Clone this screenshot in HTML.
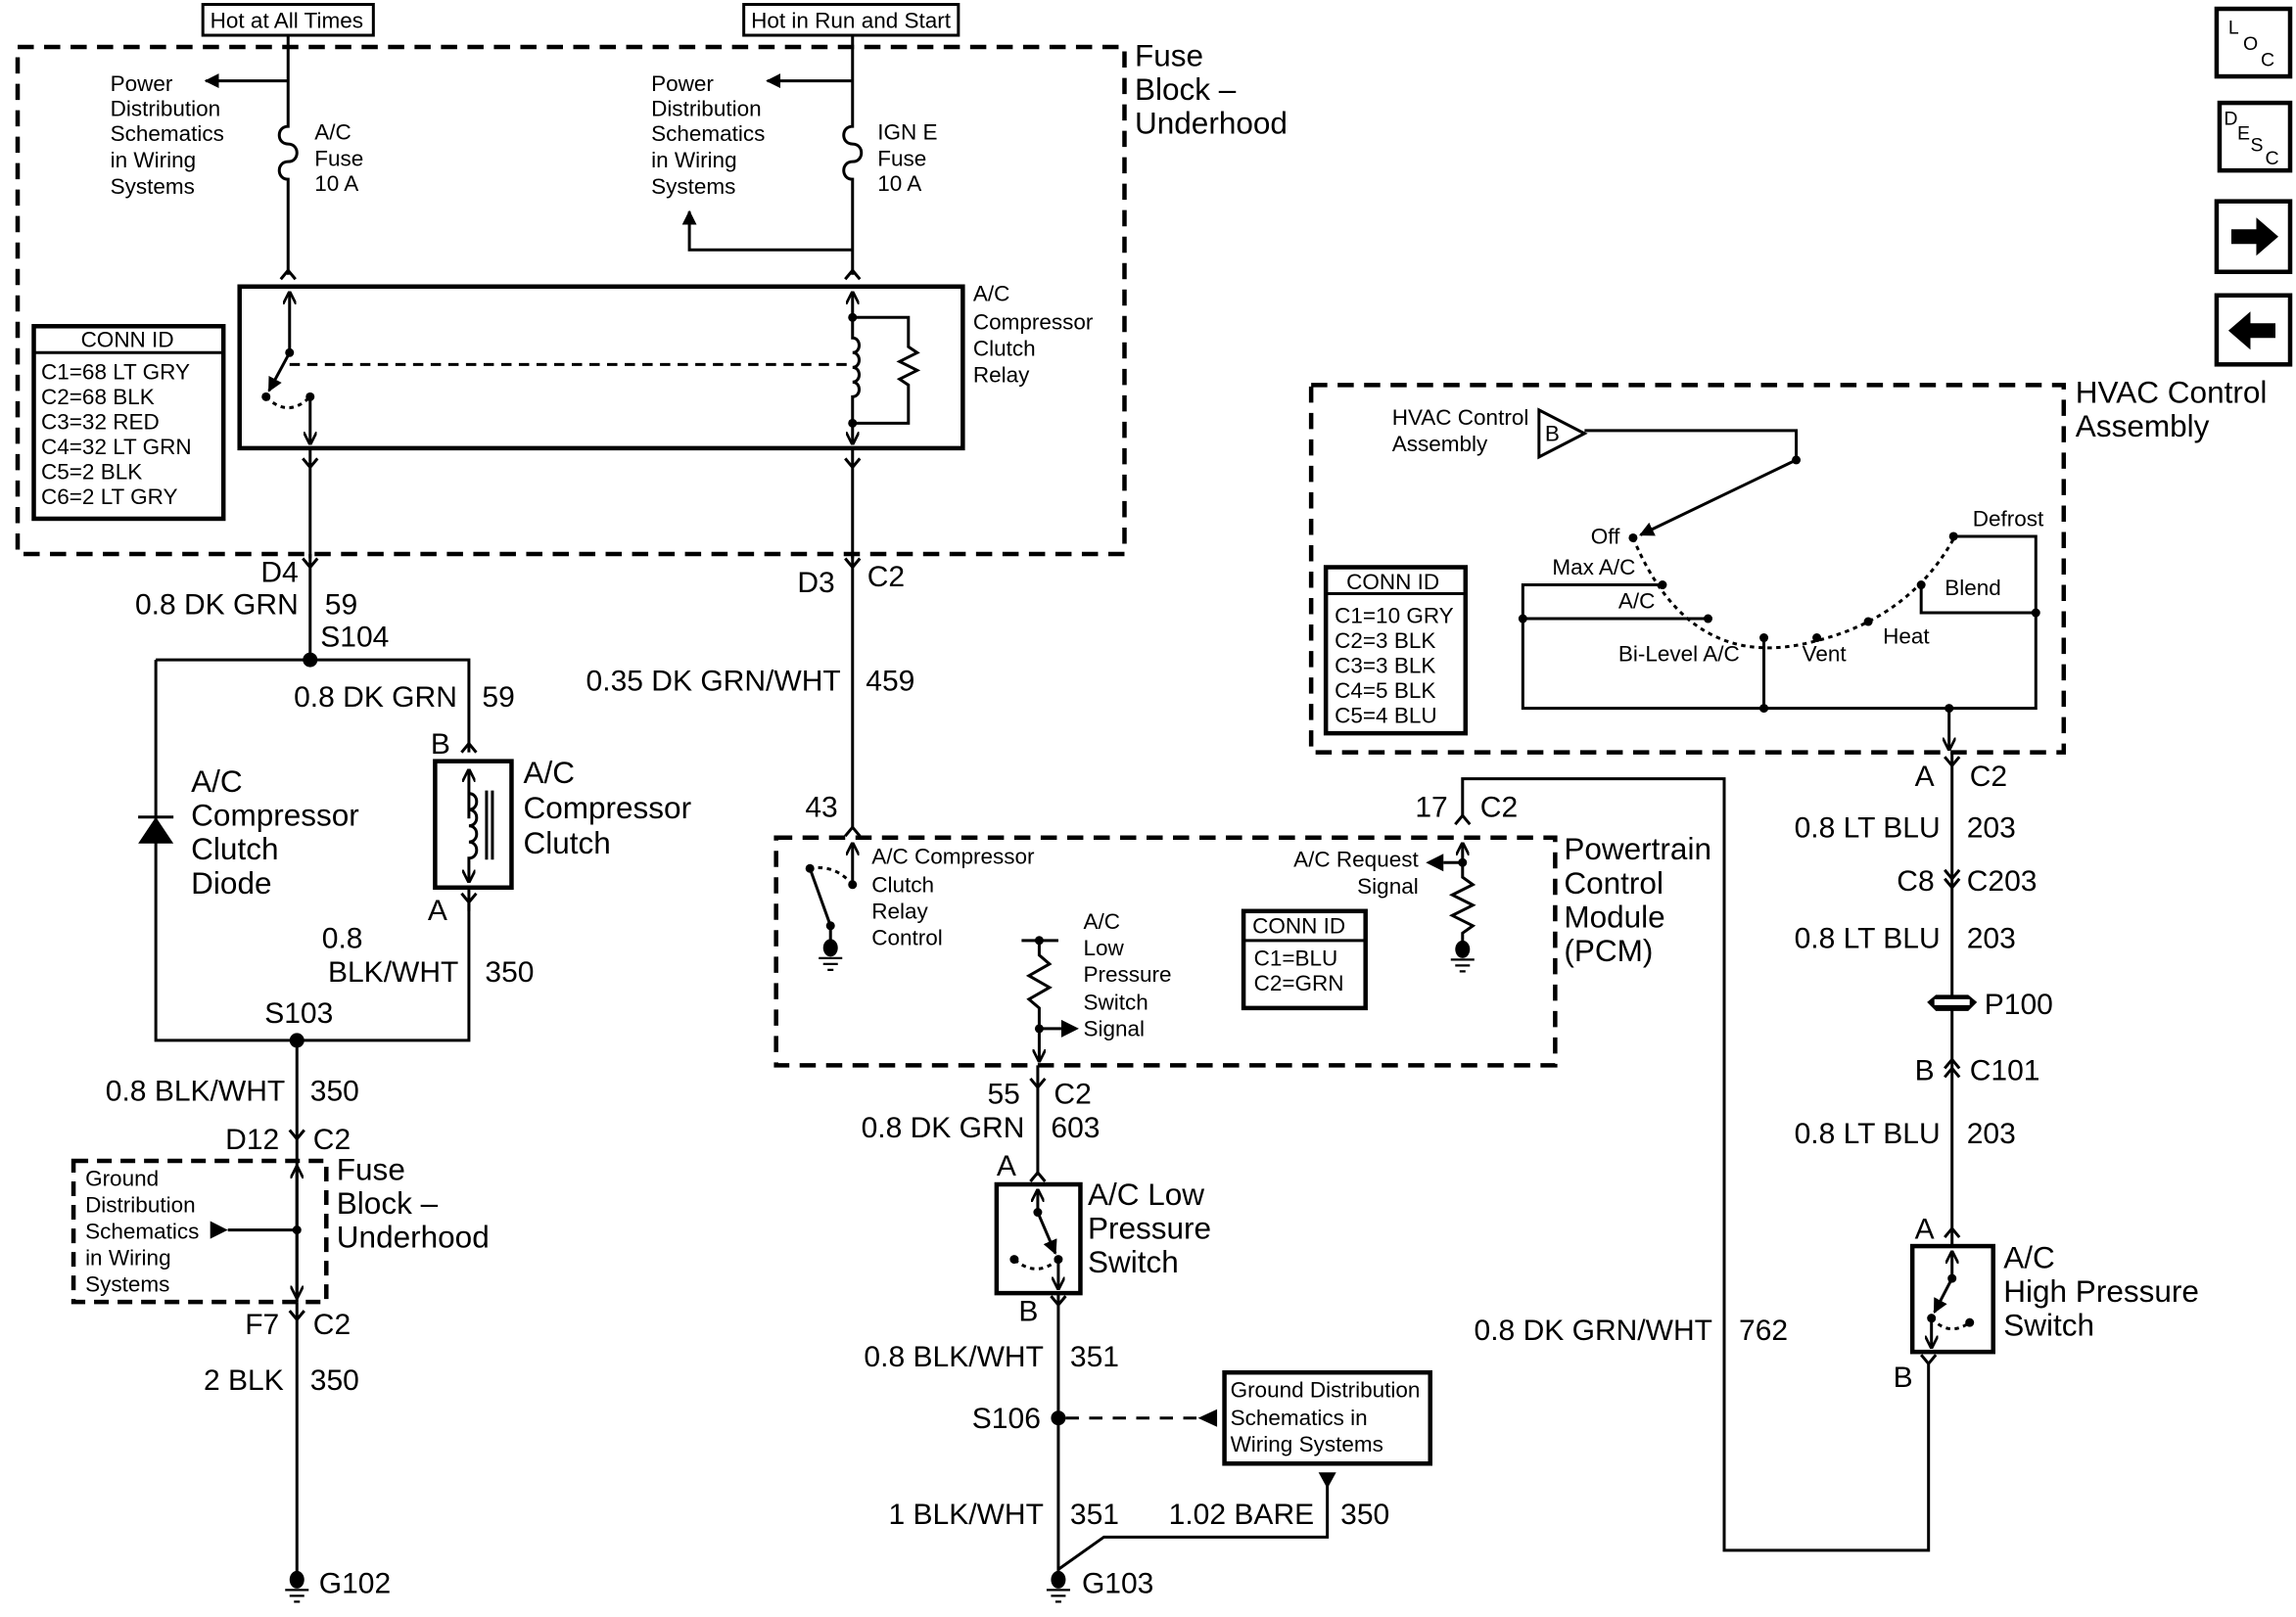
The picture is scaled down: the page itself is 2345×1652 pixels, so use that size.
<!DOCTYPE html>
<html><head><meta charset="utf-8"><style>
html,body{margin:0;padding:0;background:#fff;}
svg{display:block;}
text{font-family:"Liberation Sans",sans-serif;fill:#000;}
.s{font-size:15px;}
.l{font-size:21px;}
.w{font-size:20px;}
</style></head><body>
<svg width="2345" height="1652" viewBox="0 0 1562 1100.4" preserveAspectRatio="none" xmlns="http://www.w3.org/2000/svg">
<defs>
<marker id="ah" viewBox="0 0 10 10" refX="9" refY="5" markerWidth="10" markerHeight="10" markerUnits="userSpaceOnUse" orient="auto"><path d="M0 0L10 5L0 10z" fill="#000"/></marker>
<marker id="oa" viewBox="0 0 10 10" refX="9" refY="5" markerWidth="9" markerHeight="9" markerUnits="userSpaceOnUse" orient="auto"><path d="M0 0L10 5L0 10" fill="none" stroke="#000" stroke-width="2"/></marker>
</defs>
<g fill="none" stroke="#000" stroke-width="2">
<rect x="138" y="3" width="116" height="21"/>
<rect x="506" y="3" width="146" height="21"/>
<rect x="12" y="32" width="753" height="345" stroke-width="3" stroke-dasharray="11,7"/>
<path d="M196 24V86c-8 0-8 12 0 12c8 0 8 12 0 12c-8 0-8 12 0 12V187"/>
<path d="M196 55H140" marker-end="url(#ah)"/>
<path d="M191 190L196 184L201 190"/>
<path d="M580 24V86c-8 0-8 12 0 12c8 0 8 12 0 12c-8 0-8 12 0 12V187"/>
<path d="M580 55H522" marker-end="url(#ah)"/>
<path d="M580 170H469V144" marker-end="url(#ah)"/>
<path d="M575 190L580 184L585 190"/>
<rect x="163" y="195" width="492" height="110" stroke-width="3"/>
<path d="M197 240V199" marker-end="url(#oa)"/>
<path d="M197 240L183 266" marker-end="url(#ah)"/>
<path d="M181 270Q196 285 211 270" stroke-dasharray="3,3"/>
<path d="M211 268V302" marker-end="url(#oa)"/>
<path d="M197 248H580" stroke-dasharray="7,5"/>
<path d="M580 216V199" marker-end="url(#oa)"/>
<path d="M580 216V230c6 0 6 10 0 10c6 0 6 10 0 10c6 0 6 10 0 10c6 0 6 10 0 10V302" marker-end="url(#oa)"/>
<path d="M580 216H618V236l6 4l-12 6l12 6l-12 6l6 4V288H580"/>
<path d="M206 312L211 318L216 312M211 305V380"/>
<path d="M575 312L580 318L585 312M580 305V380"/>
<rect x="23" y="222" width="129" height="131" stroke-width="3"/>
<path d="M23 240H152"/>
<path d="M211 377V449"/>
<path d="M206 380L211 386L216 380"/>
<path d="M106 449H319V512M106 449V708H319V614"/>
<path d="M314 512L319 506L324 512"/>
<rect x="296" y="518" width="52" height="86" stroke-width="3"/>
<path d="M319 557V524" marker-end="url(#oa)"/>
<path d="M319 540c7 0 7 11 0 11c7 0 7 11 0 11c7 0 7 11 0 11c7 0 7 11 0 11V600" marker-end="url(#oa)"/>
<path d="M331 538V585M335 538V585"/>
<path d="M314 608L319 614L324 608M319 604V620"/>
<path d="M94 556H118"/>
<path d="M202 708V886"/>
<path d="M197 769L202 775L207 769"/>
<rect x="50" y="790" width="172" height="96" stroke-width="3" stroke-dasharray="10,6"/>
<path d="M202 837V794" marker-end="url(#oa)"/>
<path d="M202 837V883" marker-end="url(#oa)"/>
<path d="M202 837H155"/>
<path d="M197 892L202 898L207 892M202 886V1070"/>
<path d="M580 377V563"/>
<path d="M575 380L580 386L585 380"/>
<path d="M575 569L580 563L585 569"/>
<rect x="528" y="570" width="530" height="155" stroke-width="3" stroke-dasharray="11,7"/>
<path d="M580 602V574" marker-end="url(#oa)"/>
<path d="M580 602Q568 588 551 591" stroke-dasharray="3,3"/>
<path d="M551 591L565 630V643"/>
<path d="M695 640H720M707 640V650l7 6l-14 8l14 8l-14 8l7 6V700"/>
<path d="M707 700H722" />
<path d="M707 700V722" marker-end="url(#oa)"/>
<rect x="846" y="620" width="83" height="66" stroke-width="3"/>
<path d="M846 640H929"/>
<path d="M995 587V574" marker-end="url(#oa)"/>
<path d="M995 587H982"/>
<path d="M995 587V597l7 5l-14 7l14 7l-14 7l14 7l-7 5V645"/>
<path d="M995 555V530H1173V1055H1312V928"/>
<path d="M990 561L995 555L1000 561"/>
<path d="M706 725V800"/>
<path d="M701 734L706 740L711 734"/>
<path d="M701 804L706 798L711 804"/>
<rect x="678" y="806" width="57" height="74" stroke-width="3"/>
<path d="M706 825V810" marker-end="url(#oa)"/>
<path d="M706 825L718 853" marker-end="url(#ah)"/>
<path d="M720 857Q705 870 690 857" stroke-dasharray="3,3"/>
<path d="M720 857V877" marker-end="url(#oa)"/>
<path d="M715 882L720 888L725 882M720 880V1072"/>
<path d="M725 965H815" stroke-dasharray="9,7"/>
<rect x="833" y="934" width="140" height="62" stroke-width="3"/>
<path d="M903 1010V1046H751L720 1068"/>
<rect x="892" y="262" width="512" height="250" stroke-width="3" stroke-dasharray="11,7"/>
<polygon points="1047,279 1047,311 1078,295"/>
<path d="M1078 293H1222V313"/>
<path d="M1222 313L1116 364" marker-end="url(#ah)"/>
<path d="M1111 366Q1150 460 1236 436Q1300 420 1330 365" stroke-dasharray="3,3"/>
<path d="M1131 398H1036V482H1385V417H1307V398M1036 421H1162M1329 365H1385V417M1200 434V482"/>
<path d="M1326 482V510" marker-end="url(#oa)"/>
<rect x="902" y="386" width="95" height="113" stroke-width="3"/>
<path d="M902 404H997"/>
<path d="M1328 512V848"/>
<path d="M1323 515L1328 521L1333 515"/>
<path d="M1323 592L1328 598L1333 592M1323 598L1328 604L1333 598"/>
<path d="M1323 727L1328 721L1333 727M1323 733L1328 727L1333 733"/>
<path d="M1323 842L1328 836L1333 842"/>
<rect x="1301" y="848" width="55" height="72" stroke-width="3"/>
<path d="M1328 870V852" marker-end="url(#oa)"/>
<path d="M1328 870L1316 893" marker-end="url(#ah)"/>
<path d="M1314 897Q1326 910 1340 900" stroke-dasharray="3,3"/>
<path d="M1314 897V917" marker-end="url(#oa)"/>
<path d="M1307 922L1312 928L1317 922"/>
<rect x="1508" y="6" width="50" height="46" stroke-width="3"/>
<rect x="1510" y="70" width="48" height="46" stroke-width="3"/>
<rect x="1508" y="137" width="50" height="48" stroke-width="3"/>
<rect x="1508" y="201" width="50" height="47" stroke-width="3"/>
</g>
<g fill="#000" stroke="none">
<circle cx="197" cy="240" r="3"/><circle cx="181" cy="270" r="3"/><circle cx="211" cy="270" r="3"/>
<circle cx="580" cy="216" r="3"/><circle cx="580" cy="288" r="3"/>
<circle cx="211" cy="449" r="5"/><circle cx="202" cy="708" r="5"/><circle cx="202" cy="837" r="3"/>
<circle cx="580" cy="602" r="3"/><circle cx="551" cy="591" r="3"/><circle cx="565" cy="630" r="3"/>
<circle cx="707" cy="640" r="3"/><circle cx="707" cy="700" r="3"/><circle cx="995" cy="587" r="3"/>
<circle cx="706" cy="825" r="3"/><circle cx="720" cy="857" r="3"/><circle cx="690" cy="857" r="3"/>
<circle cx="720" cy="965" r="5"/>
<circle cx="1222" cy="313" r="3"/><circle cx="1111" cy="366" r="3"/><circle cx="1131" cy="398" r="3"/><circle cx="1162" cy="421" r="3"/><circle cx="1036" cy="421" r="3"/><circle cx="1200" cy="434" r="3"/><circle cx="1236" cy="434" r="3"/><circle cx="1271" cy="423" r="3"/><circle cx="1307" cy="398" r="3"/><circle cx="1329" cy="365" r="3"/><circle cx="1385" cy="417" r="3"/><circle cx="1200" cy="482" r="3"/><circle cx="1326" cy="482" r="3"/>
<circle cx="1328" cy="870" r="3"/><circle cx="1314" cy="897" r="3"/><circle cx="1340" cy="900" r="3"/>
<polygon points="106,556 94,574 118,574"/>
<polygon points="143,831 155,837 143,843"/>
<polygon points="722,694 734,700 722,706"/>
<polygon points="982,581 970,587 982,593"/>
<polygon points="828,959 815,965 828,971"/>
<polygon points="897,1002 909,1002 903,1013"/>
<ellipse cx="565" cy="645" rx="5" ry="6"/><ellipse cx="995" cy="646" rx="5" ry="6"/>
<ellipse cx="202" cy="1075" rx="5" ry="6"/><ellipse cx="720" cy="1075" rx="5" ry="6"/>
<polygon points="1311,682 1317,677 1339,677 1345,682 1339,688 1317,688"/>
<rect x="1316" y="680" width="24" height="4" fill="#fff"/>
<polygon points="1518,156 1535,156 1535,148 1550,161 1535,174 1535,166 1518,166"/>
<polygon points="1548,220 1531,220 1531,212 1516,225 1531,238 1531,230 1548,230"/>
</g>
<g fill="none" stroke="#000" stroke-width="1.5">
<path d="M557 652H573M560 656H570M563 660H567"/>
<path d="M987 653H1003M990 657H1000M993 661H997"/>
<path d="M194 1082H210M197 1086H207M200 1090H204"/>
<path d="M712 1082H728M715 1086H725M718 1090H722"/>
</g>
<text class="s" x="143" y="19">Hot at All Times</text>
<text class="s" x="511" y="19">Hot in Run and Start</text>
<text class="l" x="772" y="45">Fuse</text><text class="l" x="772" y="68">Block –</text><text class="l" x="772" y="91">Underhood</text>
<g class="s">
<text x="75" y="62">Power</text><text x="75" y="79">Distribution</text><text x="75" y="96">Schematics</text><text x="75" y="114">in Wiring</text><text x="75" y="132">Systems</text>
<text x="214" y="95">A/C</text><text x="214" y="113">Fuse</text><text x="214" y="130">10 A</text>
<text x="443" y="62">Power</text><text x="443" y="79">Distribution</text><text x="443" y="96">Schematics</text><text x="443" y="114">in Wiring</text><text x="443" y="132">Systems</text>
<text x="597" y="95">IGN E</text><text x="597" y="113">Fuse</text><text x="597" y="130">10 A</text>
<text x="662" y="205">A/C</text><text x="662" y="224">Compressor</text><text x="662" y="242">Clutch</text><text x="662" y="260">Relay</text>
<text x="55" y="236">CONN ID</text>
<text x="28" y="258">C1=68 LT GRY</text><text x="28" y="275">C2=68 BLK</text><text x="28" y="292">C3=32 RED</text><text x="28" y="309">C4=32 LT GRN</text><text x="28" y="326">C5=2 BLK</text><text x="28" y="343">C6=2 LT GRY</text>
<text x="58" y="807">Ground</text><text x="58" y="825">Distribution</text><text x="58" y="843">Schematics</text><text x="58" y="861">in Wiring</text><text x="58" y="879">Systems</text>
<text x="593" y="588">A/C Compressor</text><text x="593" y="607">Clutch</text><text x="593" y="625">Relay</text><text x="593" y="643">Control</text>
<text x="737" y="632">A/C</text><text x="737" y="650">Low</text><text x="737" y="668">Pressure</text><text x="737" y="687">Switch</text><text x="737" y="705">Signal</text>
<text x="852" y="635">CONN ID</text><text x="853" y="657">C1=BLU</text><text x="853" y="674">C2=GRN</text>
<text x="965" y="590" text-anchor="end">A/C Request</text><text x="965" y="608" text-anchor="end">Signal</text>
<text x="837" y="951">Ground Distribution</text><text x="837" y="970">Schematics in</text><text x="837" y="988">Wiring Systems</text>
<text x="947" y="289">HVAC Control</text><text x="947" y="307">Assembly</text>
<text x="1051" y="300">B</text>
<text x="1102" y="370" text-anchor="end">Off</text>
<text x="1056" y="391">Max A/C</text><text x="1101" y="414">A/C</text><text x="1101" y="450">Bi-Level A/C</text>
<text x="1226" y="450">Vent</text><text x="1281" y="438">Heat</text><text x="1323" y="405">Blend</text><text x="1342" y="358">Defrost</text>
<text x="916" y="401">CONN ID</text>
<text x="908" y="424">C1=10 GRY</text><text x="908" y="441">C2=3 BLK</text><text x="908" y="458">C3=3 BLK</text><text x="908" y="475">C4=5 BLK</text><text x="908" y="492">C5=4 BLU</text>
</g>
<g class="l">
<text x="1412" y="274">HVAC Control</text><text x="1412" y="297">Assembly</text>
<text x="356" y="533">A/C</text><text x="356" y="557">Compressor</text><text x="356" y="581">Clutch</text>
<text x="130" y="539">A/C</text><text x="130" y="562">Compressor</text><text x="130" y="585">Clutch</text><text x="130" y="608">Diode</text>
<text x="229" y="803">Fuse</text><text x="229" y="826">Block –</text><text x="229" y="849">Underhood</text>
<text x="1064" y="585">Powertrain</text><text x="1064" y="608">Control</text><text x="1064" y="631">Module</text><text x="1064" y="654">(PCM)</text>
<text x="740" y="820">A/C Low</text><text x="740" y="843">Pressure</text><text x="740" y="866">Switch</text>
<text x="1363" y="863">A/C</text><text x="1363" y="886">High Pressure</text><text x="1363" y="909">Switch</text>
</g>
<g class="w">
<text x="203" y="396" text-anchor="end">D4</text>
<text x="203" y="418" text-anchor="end">0.8 DK GRN</text><text x="221" y="418">59</text>
<text x="218" y="440">S104</text>
<text x="311" y="481" text-anchor="end">0.8 DK GRN</text><text x="328" y="481">59</text>
<text x="293" y="513">B</text><text x="291" y="626">A</text>
<text x="219" y="645">0.8</text><text x="312" y="668" text-anchor="end">BLK/WHT</text><text x="330" y="668">350</text>
<text x="180" y="696">S103</text>
<text x="194" y="749" text-anchor="end">0.8 BLK/WHT</text><text x="211" y="749">350</text>
<text x="190" y="782" text-anchor="end">D12</text><text x="213" y="782">C2</text>
<text x="190" y="908" text-anchor="end">F7</text><text x="213" y="908">C2</text>
<text x="193" y="946" text-anchor="end">2 BLK</text><text x="211" y="946">350</text>
<text x="217" y="1084">G102</text>
<text x="568" y="403" text-anchor="end">D3</text><text x="590" y="399">C2</text>
<text x="572" y="470" text-anchor="end">0.35 DK GRN/WHT</text><text x="589" y="470">459</text>
<text x="570" y="556" text-anchor="end">43</text>
<text x="985" y="556" text-anchor="end">17</text><text x="1007" y="556">C2</text>
<text x="694" y="751" text-anchor="end">55</text><text x="717" y="751">C2</text>
<text x="697" y="774" text-anchor="end">0.8 DK GRN</text><text x="715" y="774">603</text>
<text x="678" y="800">A</text>
<text x="693" y="899">B</text>
<text x="710" y="930" text-anchor="end">0.8 BLK/WHT</text><text x="728" y="930">351</text>
<text x="708" y="972" text-anchor="end">S106</text>
<text x="710" y="1037" text-anchor="end">1 BLK/WHT</text><text x="728" y="1037">351</text>
<text x="894" y="1037" text-anchor="end">1.02 BARE</text><text x="912" y="1037">350</text>
<text x="736" y="1084">G103</text>
<text x="1165" y="912" text-anchor="end">0.8 DK GRN/WHT</text><text x="1183" y="912">762</text>
<text x="1316" y="535" text-anchor="end">A</text><text x="1340" y="535">C2</text>
<text x="1320" y="570" text-anchor="end">0.8 LT BLU</text><text x="1338" y="570">203</text>
<text x="1316" y="606" text-anchor="end">C8</text><text x="1338" y="606">C203</text>
<text x="1320" y="645" text-anchor="end">0.8 LT BLU</text><text x="1338" y="645">203</text>
<text x="1350" y="690">P100</text>
<text x="1316" y="735" text-anchor="end">B</text><text x="1340" y="735">C101</text>
<text x="1320" y="778" text-anchor="end">0.8 LT BLU</text><text x="1338" y="778">203</text>
<text x="1316" y="843" text-anchor="end">A</text>
<text x="1288" y="944">B</text>
</g>
<g font-size="13">
<text x="1516" y="23">L</text><text x="1526" y="34">O</text><text x="1538" y="45">C</text>
<text x="1513" y="85">D</text><text x="1522" y="95">E</text><text x="1531" y="103">S</text><text x="1541" y="112">C</text>
</g>
</svg>
</body></html>
